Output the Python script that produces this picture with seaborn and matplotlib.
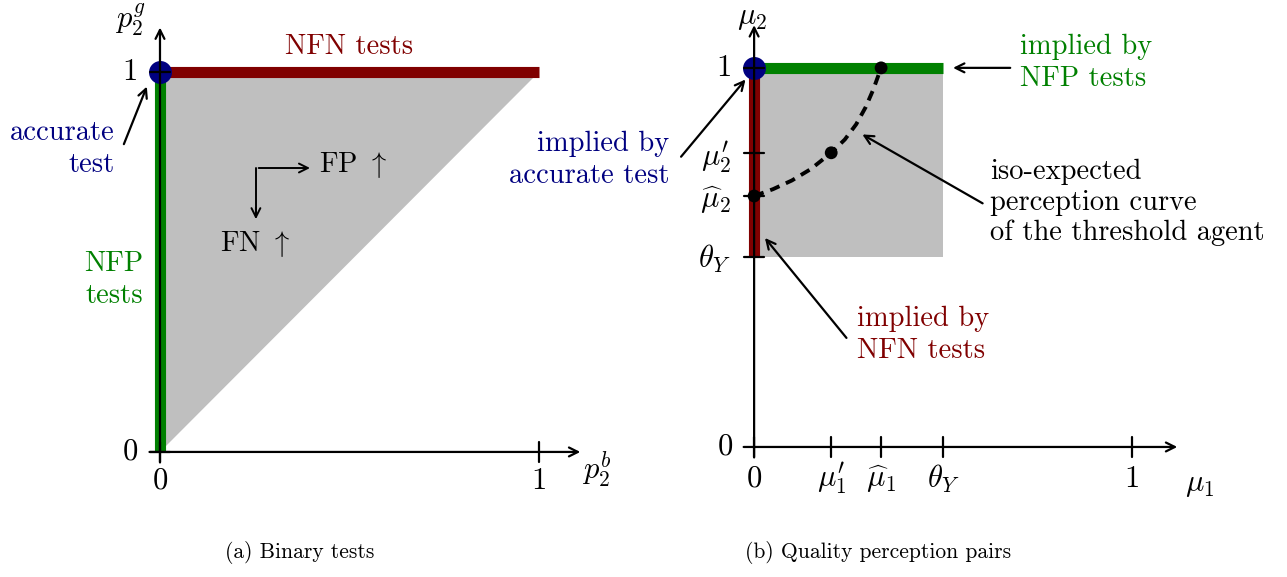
import numpy as np
import pandas as pd
import seaborn as sns
import matplotlib.pyplot as plt

#-- values --#
# panel (b): tick positions on the quality perception axes
theta_Y = 0.5
mu1_prime, mu1_hat = 0.204, 0.336
mu2_prime, mu2_hat = 0.776, 0.662
# iso-expected perception curve
curve_mu1 = [0.0, 0.05, 0.10, 0.15, 0.204, 0.24, 0.27, 0.295, 0.315, 0.336]
curve_mu2 = [0.662, 0.680, 0.703, 0.733, 0.776, 0.811, 0.851, 0.896, 0.942, 1.0]
curve_dots_mu1 = [0.0, mu1_prime, mu1_hat]
curve_dots_mu2 = [mu2_hat, mu2_prime, 1.0]

# panel (a): binary tests region corners
region_a_x = [0.0, 0.0, 1.0]
region_a_y = [0.0, 1.0, 1.0]

RED = "#800000"
GREEN = "#008000"
BLUE = "#000080"
GREY = "#bfbfbf"
FS = 20.5
MFS = 22

sns.set_theme(style="white")
plt.rcParams["font.family"] = "serif"
plt.rcParams["font.serif"] = ["cmr10", "DejaVu Serif"]
plt.rcParams["mathtext.fontset"] = "cm"
plt.rcParams["axes.formatter.use_mathtext"] = True
plt.rcParams["text.color"] = "black"

fig = plt.figure(figsize=(12.87, 5.77), dpi=100)
ax1 = fig.add_axes([0, 0, 643 / 1287, 1])
ax2 = fig.add_axes([643 / 1287, 0, 644 / 1287, 1])
ax1.set_xlim(-0.422, 1.274)
ax1.set_ylim(-0.329, 1.189)
ax2.set_xlim(-0.294, 1.410)
ax2.set_ylim(-0.343, 1.179)
for ax in (ax1, ax2):
    ax.axis("off")

arrow_kw = dict(arrowstyle="->", lw=1.6, color="black", mutation_scale=16)


def draw_axes(ax, xend, yend):
    ax.annotate("", xy=(xend, 0), xytext=(-0.035, 0), arrowprops=arrow_kw, zorder=5)
    ax.annotate("", xy=(0, yend), xytext=(0, -0.035), arrowprops=arrow_kw, zorder=5)


def xtick(ax, x):
    ax.plot([x, x], [-0.027, 0.027], color="black", lw=1.6, zorder=5)


def ytick(ax, y):
    ax.plot([-0.027, 0.027], [y, y], color="black", lw=1.6, zorder=5)


#-- (a) Binary tests --#
ax1.fill(region_a_x, region_a_y, color=GREY, lw=0, zorder=1)
ax1.plot([0, 1], [1, 1], color=RED, lw=8, solid_capstyle="butt", zorder=2)
ax1.plot([0, 0], [0, 1], color=GREEN, lw=8, solid_capstyle="butt", zorder=2)
ax1.plot([0], [1], "o", ms=15.5, color=BLUE, zorder=3)
draw_axes(ax1, 1.116, 1.124)
for v in (0, 1):
    xtick(ax1, v)
    ytick(ax1, v)
ax1.text(-0.079, 1.0, "1", fontsize=MFS, ha="center", va="center")
ax1.text(-0.079, 0.0, "0", fontsize=MFS, ha="center", va="center")
ax1.text(0.0, -0.076, "0", fontsize=MFS, ha="center", va="center")
ax1.text(1.0, -0.076, "1", fontsize=MFS, ha="center", va="center")
ax1.text(-0.079, 1.137, r"$p_2^g$", fontsize=MFS, ha="center", va="center")
ax1.text(1.153, -0.047, r"$p_2^b$", fontsize=MFS, ha="center", va="center")
ax1.text(0.50, 1.066, "NFN tests", color=RED, fontsize=FS, ha="center", va="center")
ax1.text(-0.045, 0.453, "NFP\ntests", color=GREEN, fontsize=FS, ha="right",
         va="center", multialignment="right", linespacing=1.25)
ax1.text(-0.119, 0.797, "accurate\ntest", color=BLUE, fontsize=FS, ha="right",
         va="center", multialignment="right", linespacing=1.25)
ax1.annotate("", xy=(-0.032, 0.968), xytext=(-0.098, 0.803), arrowprops=arrow_kw)
# FP / FN elbow
ax1.plot([0.253, 0.253], [0.747, 0.62], color="black", lw=1.4)
ax1.annotate("", xy=(0.403, 0.747), xytext=(0.253, 0.747), arrowprops=dict(arrow_kw, lw=1.4))
ax1.annotate("", xy=(0.253, 0.605), xytext=(0.253, 0.65), arrowprops=dict(arrow_kw, lw=1.4))
ax1.text(0.42, 0.755, r"FP $\uparrow$", fontsize=FS, ha="left", va="center")
ax1.text(0.25, 0.548, r"FN $\uparrow$", fontsize=FS, ha="center", va="center")

#-- (b) Quality perception pairs --#
ax2.fill([0, theta_Y, theta_Y, 0], [theta_Y, theta_Y, 1, 1], color=GREY, lw=0, zorder=1)
ax2.plot([0, theta_Y], [1, 1], color=GREEN, lw=8, solid_capstyle="butt", zorder=2)
ax2.plot([0, 0], [theta_Y, 1], color=RED, lw=8, solid_capstyle="butt", zorder=2)
ax2.plot([0], [1], "o", ms=15.5, color=BLUE, zorder=3)
curve = pd.DataFrame({"mu1": curve_mu1, "mu2": curve_mu2})
sns.lineplot(data=curve, x="mu1", y="mu2", sort=False, ax=ax2, color="black",
             lw=2.8, dashes=False, zorder=4).lines[-1].set_dashes((2.6, 1.8))
dots = pd.DataFrame({"mu1": curve_dots_mu1, "mu2": curve_dots_mu2})
sns.scatterplot(data=dots, x="mu1", y="mu2", ax=ax2, color="black", s=85,
                edgecolor="none", zorder=6)
draw_axes(ax2, 1.127, 1.12)
for v in (0, mu1_prime, mu1_hat, theta_Y, 1):
    xtick(ax2, v)
for v in (mu2_hat, mu2_prime, theta_Y, 1):
    ytick(ax2, v)
ax2.set_xlabel("")
ax2.set_ylabel("")
ax2.text(-0.079, 1.0, "1", fontsize=MFS, ha="center", va="center")
ax2.text(-0.077, 0.0, "0", fontsize=MFS, ha="center", va="center")
ax2.text(-0.061, mu2_prime - 0.012, r"$\mu_2'$", fontsize=MFS, ha="right", va="center")
ax2.text(-0.061, mu2_hat - 0.01, r"$\widehat{\mu}_2$", fontsize=MFS, ha="right", va="center")
ax2.text(-0.061, theta_Y - 0.005, r"$\theta_Y$", fontsize=MFS, ha="right", va="center")
xlab = [(0, "0"), (mu1_prime, r"$\mu_1'$"), (mu1_hat, r"$\widehat{\mu}_1$"),
        (theta_Y, r"$\theta_Y$"), (1, "1")]
for v, s in xlab:
    ax2.text(v, -0.085, s, fontsize=MFS, ha="center", va="center")
ax2.text(-0.005, 1.131, r"$\mu_2$", fontsize=MFS, ha="center", va="center")
ax2.text(1.18, -0.10, r"$\mu_1$", fontsize=MFS, ha="center", va="center")

ax2.text(0.704, 1.013, "implied by\nNFP tests", color=GREEN, fontsize=FS,
         ha="left", va="center", linespacing=1.25)
ax2.annotate("", xy=(0.519, 1.0), xytext=(0.685, 1.0), arrowprops=arrow_kw)
ax2.text(-0.225, 0.757, "implied by\naccurate test", color=BLUE, fontsize=FS,
         ha="right", va="center", multialignment="right", linespacing=1.25)
ax2.annotate("", xy=(-0.018, 0.975), xytext=(-0.198, 0.76), arrowprops=arrow_kw)
ax2.text(0.624, 0.644, "iso-expected\nperception curve\nof the threshold agent",
         fontsize=FS, ha="left", va="center", linespacing=1.2)
ax2.annotate("", xy=(0.28, 0.828), xytext=(0.611, 0.639), arrowprops=arrow_kw)
ax2.text(0.272, 0.296, "implied by\nNFN tests", color=RED, fontsize=FS,
         ha="left", va="center", linespacing=1.25)
ax2.annotate("", xy=(0.024, 0.557), xytext=(0.249, 0.282), arrowprops=arrow_kw)

fig.text(300 / 1287, 1 - 552 / 577, "(a) Binary tests", fontsize=15.5, ha="center", va="center")
fig.text(878 / 1287, 1 - 552 / 577, "(b) Quality perception pairs", fontsize=15.5,
         ha="center", va="center")

fig.savefig("out.png", dpi=100)
